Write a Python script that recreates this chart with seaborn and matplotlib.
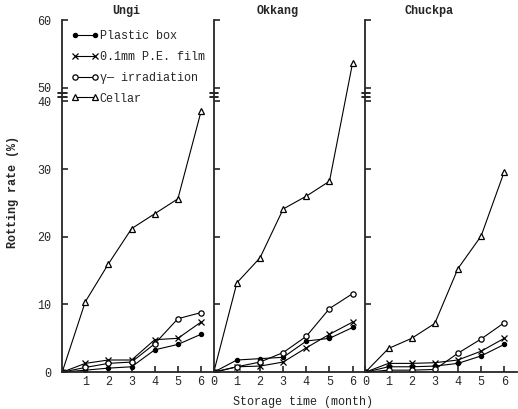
import numpy as np
import pandas as pd
import matplotlib.pyplot as plt
import seaborn as sns

# datos (tasa de pudricion, %)
months = [0, 1, 2, 3, 4, 5, 6]
cultivars = ['Ungi', 'Okkang', 'Chuckpa']
treatments = ['Plastic box', '0.1mm P.E. film', 'γ— irradiation', 'Cellar']

ungi_plastic = [0, 0.3, 0.6, 0.8, 3.3, 4.1, 5.6]
ungi_pe = [0, 1.3, 1.8, 1.8, 4.8, 5.0, 7.4]
ungi_gamma = [0, 0.7, 1.3, 1.5, 4.2, 7.9, 8.8]
ungi_cellar = [0, 10.4, 16.0, 21.2, 23.4, 25.6, 38.5]

okkang_plastic = [0, 1.8, 2.0, 2.2, 4.6, 5.0, 6.6]
okkang_pe = [0, 0.8, 0.9, 1.5, 3.6, 5.6, 7.4]
okkang_gamma = [0, 0.8, 1.5, 2.9, 5.3, 9.4, 11.6]
okkang_cellar = [0, 13.2, 16.9, 24.1, 26.0, 28.2, 53.7]

chuckpa_plastic = [0, 0.8, 0.8, 0.9, 1.3, 2.4, 4.1]
chuckpa_pe = [0, 1.3, 1.3, 1.4, 1.8, 3.1, 5.0]
chuckpa_gamma = [0, 0.3, 0.3, 0.4, 2.8, 4.9, 7.3]
chuckpa_cellar = [0, 3.5, 5.0, 7.2, 15.3, 20.1, 29.6]

series = {
    'Ungi': [ungi_plastic, ungi_pe, ungi_gamma, ungi_cellar],
    'Okkang': [okkang_plastic, okkang_pe, okkang_gamma, okkang_cellar],
    'Chuckpa': [chuckpa_plastic, chuckpa_pe, chuckpa_gamma, chuckpa_cellar],
}

# estilo de cada tratamiento: marcador, relleno, tamano
marker_styles = {
    'Plastic box': ('o', 'black', 3.0),
    '0.1mm P.E. film': ('x', 'black', 4.0),
    'γ— irradiation': ('o', 'white', 3.8),
    'Cellar': ('^', 'white', 4.5),
}


# eje y partido entre 40 y 50
def fwd(v):
    v = np.asarray(v, dtype=float)
    return np.where(v <= 40, v, np.where(v >= 50, v - 8, 40 + (v - 40) * 0.2))


def inv(u):
    u = np.asarray(u, dtype=float)
    return np.where(u <= 40, u, np.where(u >= 42, u + 8, 40 + (u - 40) * 5))


rows = []
for cv in cultivars:
    for trt, vals in zip(treatments, series[cv]):
        for m, v in zip(months, vals):
            rows.append({'cultivar': cv, 'treatment': trt, 'month': m, 'rate': v})
df = pd.DataFrame(rows)

sns.set_theme(style="ticks")
plt.rcParams['font.family'] = ['Liberation Mono', 'DejaVu Sans Mono']
plt.rcParams['axes.linewidth'] = 1.3

fig, axes = plt.subplots(1, 3, figsize=(5.18, 4.09), dpi=100, sharey=True)
fig.subplots_adjust(left=0.12, right=0.998, bottom=0.09, top=0.951, wspace=0)

for i, (ax, cv) in enumerate(zip(axes, cultivars)):
    sub = df[df['cultivar'] == cv]
    for trt in treatments:
        mk, fc, ms = marker_styles[trt]
        sns.lineplot(data=sub[sub['treatment'] == trt], x='month', y='rate',
                     ax=ax, color='black', lw=0.8, marker=mk, markersize=ms,
                     markerfacecolor=fc, markeredgecolor='black',
                     markeredgewidth=0.9, label=trt if i == 0 else None)

    ax.set_yscale('function', functions=(fwd, inv))
    ax.set_ylim(0, 60)
    ax.set_xlim(0, 6.55)
    ax.set_yticks([0, 10, 20, 30, 40, 50, 60])
    ax.set_xticks(months if i > 0 else months[1:])
    ax.set_xlabel('')
    ax.set_ylabel('')
    sns.despine(ax=ax)
    ax.tick_params(axis='both', direction='in', length=4, width=1.2,
                   labelsize=8.5)
    ax.tick_params(axis='y', pad=8)
    ax.tick_params(axis='x', pad=3)
    if i > 0:
        ax.tick_params(axis='y', labelleft=False)
    ax.text(0.42, 1.008, cv, transform=ax.transAxes, ha='center', va='bottom',
            fontsize=8.5, fontweight='bold')

    # marcas de corte del eje
    tr = ax.get_yaxis_transform()
    for yb in (43.5, 46.5):
        ax.plot([-0.025, 0.03], [yb, yb], transform=tr, color='black',
                lw=1.2, clip_on=False)

axes[0].legend(loc='upper left', bbox_to_anchor=(0.03, 0.985), frameon=False,
               numpoints=2, handlelength=2.3, handletextpad=0.1,
               labelspacing=0.75, fontsize=8.5, borderaxespad=0)

fig.text(0.025, 0.53, 'Rotting rate (%)', rotation=90, ha='center',
         va='center', fontsize=8.5, fontweight='bold')
fig.text(0.585, 0.018, 'Storage time (month)', ha='center', va='center',
         fontsize=8.5)

fig.savefig('out.png', dpi=100)
